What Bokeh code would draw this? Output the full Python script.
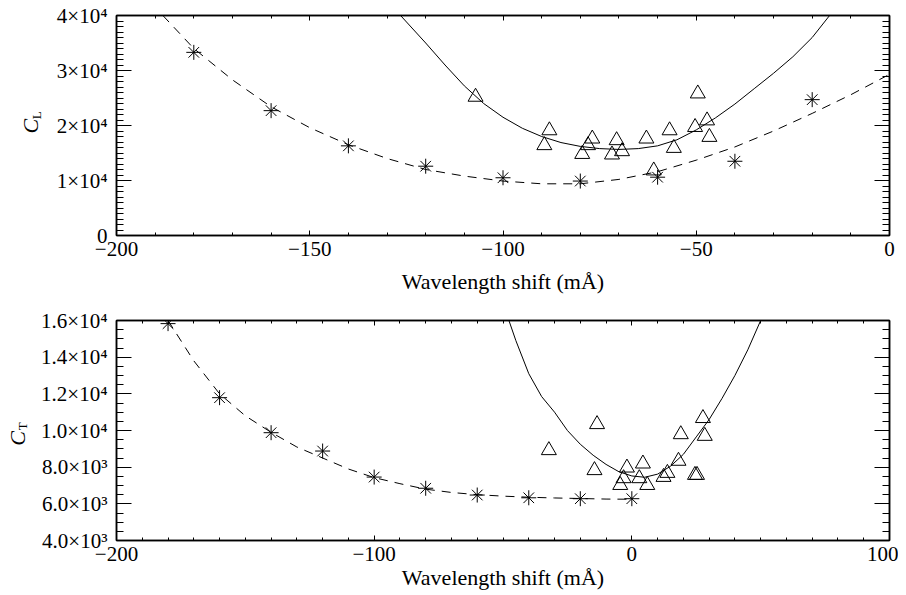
from math import pi
from bokeh.plotting import figure
from bokeh.models import Range1d, FixedTicker, LinearAxis, Label
from bokeh.layouts import column, row
from bokeh.embed import file_html
from bokeh.resources import INLINE

FONT = "Liberation Serif"

# ---------------- data: upper panel (C_L) ----------------
top_star_x = [-180, -160, -140, -120, -100, -80, -60, -40, -20]
top_star_y = [33300, 22700, 16300, 12600, 10500, 9900, 10600, 13500, 24700]

top_tri_x = [-107.1, -88.0, -89.3, -76.9, -78.0, -79.5, -70.6, -71.8, -69.2,
             -62.9, -61.0, -56.9, -55.8, -49.6, -50.3, -47.2, -46.6]
top_tri_y = [25200, 19100, 16400, 17600, 16400, 14800, 17300, 14700, 15300,
             17600, 11800, 19100, 15900, 25800, 19700, 20900, 17900]

top_dash_x = [-188, -180, -170, -160, -150, -140, -130, -120, -110, -100,
              -90, -80, -70, -60, -50, -40, -30, -20, -10, 0]
top_dash_y = [40000, 34000, 28300, 23400, 19600, 16500, 14000, 12000, 10800, 9900,
              9400, 9400, 10200, 11600, 13700, 16100, 19000, 22200, 25600, 29300]

top_solid_x = [-126.5, -120, -115, -110, -105, -100, -95, -90, -85, -80, -75, -70,
               -65, -60, -55, -50, -45, -40, -35, -30, -25, -20, -15.5]
top_solid_y = [40000, 35000, 31000, 27200, 24000, 21500, 19500, 18000, 16900, 16200,
               15800, 15650, 15800, 16300, 17400, 19200, 21400, 23900, 26700, 29500,
               32500, 36000, 40000]

top_xticks = [-200, -150, -100, -50, 0]
top_xlabels = ["\u2212200", "\u2212150", "\u2212100", "\u221250", "0"]
top_yticks = [0, 10000, 20000, 30000, 40000]
top_ylabels = ["0", "1\u00d710\u2074", "2\u00d710\u2074", "3\u00d710\u2074", "4\u00d710\u2074"]

# ---------------- data: lower panel (C_T) ----------------
bot_star_x = [-180, -160, -140, -120, -100, -80, -60, -40, -20, 0]
bot_star_y = [15830, 11790, 9880, 8880, 7460, 6850, 6480, 6330, 6280, 6280]

bot_tri_x = [-32.2, -13.5, -14.5, -1.9, -3.2, -4.5, 4.3, 2.9, 6.0,
             12.3, 13.8, 18.1, 19.0, 24.5, 25.3, 27.6, 28.3]
bot_tri_y = [8920, 10340, 7830, 7970, 7390, 7020, 8190, 7390, 7020,
             7460, 7680, 8340, 9790, 7570, 7570, 10670, 9700]

bot_dash_x = [-180, -170, -160, -150, -140, -130, -120, -110, -100, -90,
              -80, -70, -60, -50, -40, -30, -20, -10, 0]
bot_dash_y = [16000, 13800, 12000, 10800, 9900, 9100, 8500, 7900, 7430, 7100,
              6800, 6620, 6500, 6420, 6360, 6320, 6290, 6260, 6250]

bot_solid_x = [-47.7, -45, -40, -35, -30, -25, -20, -15, -10, -5, 0, 5,
               10, 15, 20, 25, 30, 35, 40, 45, 50]
bot_solid_y = [16000, 14900, 13100, 11850, 11000, 10000, 9250, 8650, 8150, 7750, 7520, 7450,
               7620, 8050, 8700, 9650, 10600, 11750, 13000, 14400, 16000]

bot_xticks = [-200, -100, 0, 100]
bot_xlabels = ["\u2212200", "\u2212100", "0", "100"]
bot_yticks = [4000, 6000, 8000, 10000, 12000, 14000, 16000]
bot_ylabels = ["4.0\u00d710\u00b3", "6.0\u00d710\u00b3", "8.0\u00d710\u00b3", "1.0\u00d710\u2074",
               "1.2\u00d710\u2074", "1.4\u00d710\u2074", "1.6\u00d710\u2074"]

XLABEL = "Wavelength shift (m\u00c5)"


def style_axis(ax, major_in, minor_in, labels, standoff):
    ax.major_tick_in = major_in
    ax.major_tick_out = 0
    ax.minor_tick_in = minor_in
    ax.minor_tick_out = 0
    ax.axis_line_color = "black"
    ax.axis_line_width = 1.5
    ax.major_tick_line_color = "black"
    ax.minor_tick_line_color = "black"
    ax.major_tick_line_width = 1
    ax.minor_tick_line_width = 1
    ax.major_label_text_font = FONT
    ax.major_label_text_color = "black"
    if labels:
        ax.major_label_text_font_size = "21px"
        ax.major_label_standoff = standoff
    else:
        ax.major_label_text_font_size = "0px"
        ax.major_label_standoff = 0
        ax.major_label_text_alpha = 0


def make_panel(width, height, bleft, btop, bbot, xr, yr, xticks, xminor, xlabels,
               yticks, yminor, ylabels, star_x, star_y, tri_x, tri_y,
               dash_x, dash_y, solid_x, solid_y, xlab_standoff):
    p = figure(width=width, height=height, output_backend="svg", toolbar_location=None,
               x_range=Range1d(*xr), y_range=Range1d(*yr),
               min_border_left=bleft, min_border_right=9, min_border_top=btop,
               min_border_bottom=bbot)
    p.xgrid.visible = False
    p.ygrid.visible = False
    p.outline_line_color = "black"
    p.outline_line_width = 1.5
    p.background_fill_color = "white"
    p.border_fill_color = "white"

    p.xaxis.ticker = FixedTicker(ticks=xticks, minor_ticks=xminor)
    p.yaxis.ticker = FixedTicker(ticks=yticks, minor_ticks=yminor)
    p.xaxis.major_label_overrides = {t: s for t, s in zip(xticks, xlabels)}
    p.yaxis.major_label_overrides = {t: s for t, s in zip(yticks, ylabels)}
    style_axis(p.xaxis[0], 5, 3, True, 6)
    style_axis(p.yaxis[0], 15, 7, True, 9)
    xa = p.xaxis[0]
    xa.axis_label = XLABEL
    xa.axis_label_text_font = FONT
    xa.axis_label_text_font_size = "22px"
    xa.axis_label_text_font_style = "normal"
    xa.axis_label_text_color = "black"
    xa.axis_label_standoff = xlab_standoff

    top_ax = LinearAxis(ticker=FixedTicker(ticks=xticks, minor_ticks=xminor))
    style_axis(top_ax, 5, 3, False, 0)
    p.add_layout(top_ax, "above")
    right_ax = LinearAxis(ticker=FixedTicker(ticks=yticks, minor_ticks=yminor))
    style_axis(right_ax, 15, 7, False, 0)
    p.add_layout(right_ax, "right")

    p.line(dash_x, dash_y, line_color="black", line_width=1, line_dash="9 7")
    p.line(solid_x, solid_y, line_color="black", line_width=1)
    p.scatter(star_x, star_y, marker="asterisk", size=15, line_color="black", line_width=1)
    p.scatter(tri_x, tri_y, marker="triangle", size=15, fill_color=None,
              line_color="black", line_width=1)
    return p


def make_ylabel(width, height, sub, c_pos, s_pos):
    f = figure(width=width, height=height, output_backend="svg", toolbar_location=None,
               x_range=Range1d(0, width), y_range=Range1d(height, 0), min_border=0)
    f.axis.visible = False
    f.xgrid.visible = False
    f.ygrid.visible = False
    f.outline_line_color = None
    f.background_fill_color = "white"
    f.border_fill_color = "white"
    f.add_layout(Label(x=c_pos[0], y=c_pos[1], text="C", angle=pi / 2,
                       text_font=FONT, text_font_style="italic", text_font_size="22px",
                       text_align="center", text_baseline="middle", text_color="black"))
    f.add_layout(Label(x=s_pos[0], y=s_pos[1], text=sub, angle=pi / 2,
                       text_font=FONT, text_font_size="13px",
                       text_align="center", text_baseline="middle", text_color="black"))
    return f


p1 = make_panel(852, 300, 70, 15, 65, (-200, 0), (0, 40000),
                top_xticks, list(range(-200, 1, 10)), top_xlabels,
                top_yticks, list(range(0, 40001, 1000)), top_ylabels,
                top_star_x, top_star_y, top_tri_x, top_tri_y,
                top_dash_x, top_dash_y, top_solid_x, top_solid_y, 10)
l1 = make_ylabel(46, 300, "L", (30, 151), (36, 136))

p2 = make_panel(862, 295, 80, 20, 55, (-200, 100), (4000, 16000),
                bot_xticks, list(range(-200, 101, 10)), bot_xlabels,
                bot_yticks, list(range(4000, 16001, 500)), bot_ylabels,
                bot_star_x, bot_star_y, bot_tri_x, bot_tri_y,
                bot_dash_x, bot_dash_y, bot_solid_x, bot_solid_y, 1)
l2 = make_ylabel(36, 295, "T", (17, 158), (22, 142))

layout = column(row(l1, p1, spacing=0), row(l2, p2, spacing=0), spacing=0)
open("out.html", "w").write(file_html(layout, INLINE, "plot"))
